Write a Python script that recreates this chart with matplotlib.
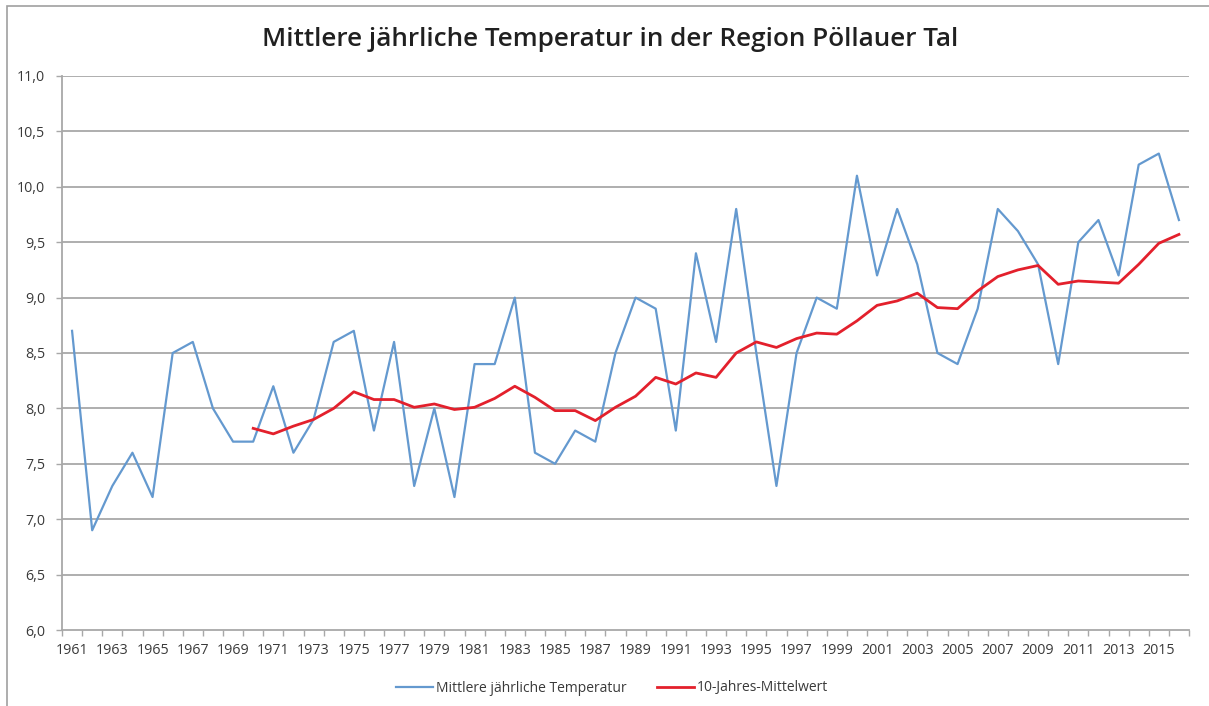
import numpy as np
import matplotlib.pyplot as plt
from matplotlib.patches import Rectangle
from matplotlib.ticker import FixedLocator, FuncFormatter

years = list(range(1961, 2017))
temp = [8.7, 6.9, 7.3, 7.6, 7.2, 8.5, 8.6, 8.0, 7.7, 7.7,
        8.2, 7.6, 7.9, 8.6, 8.7, 7.8, 8.6, 7.3, 8.0, 7.2,
        8.4, 8.4, 9.0, 7.6, 7.5, 7.8, 7.7, 8.5, 9.0, 8.9,
        7.8, 9.4, 8.6, 9.8, 8.5, 7.3, 8.5, 9.0, 8.9, 10.1,
        9.2, 9.8, 9.3, 8.5, 8.4, 8.9, 9.8, 9.6, 9.3, 8.4,
        9.5, 9.7, 9.2, 10.2, 10.3, 9.7]

# 10-Jahres-Mittelwert, ab 1970
mean_years = list(range(1970, 2017))
mean10 = [7.82, 7.77, 7.84, 7.90, 8.00, 8.15, 8.08, 8.08, 8.01, 8.04,
          7.99, 8.01, 8.09, 8.20, 8.10, 7.98, 7.98, 7.89, 8.01, 8.11,
          8.28, 8.22, 8.32, 8.28, 8.50, 8.60, 8.55, 8.63, 8.68, 8.67,
          8.79, 8.93, 8.97, 9.04, 8.91, 8.90, 9.06, 9.19, 9.25, 9.29,
          9.12, 9.15, 9.14, 9.13, 9.30, 9.49, 9.57]

y_ticks = [6.0, 6.5, 7.0, 7.5, 8.0, 8.5, 9.0, 9.5, 10.0, 10.5, 11.0]
x_labels = years[::2]

W, H = 1209, 706
fig = plt.figure(figsize=(W / 100, H / 100), dpi=100)
plt.rcParams['font.family'] = ['Open Sans', 'DejaVu Sans']

# outer frame of the chart area
fig.patches.append(Rectangle((7 / W, -0.1), 1.2, 1 - 6 / H + 0.1, transform=fig.transFigure,
                             fill=False, edgecolor='#a0a0a0', linewidth=1.2))

ax = fig.add_axes([62 / W, 1 - 630 / H, (1189 - 62) / W, (630 - 76) / H])
grid_c = '#a8a8a8'
for v in y_ticks[1:]:
    ax.axhline(v, color=grid_c, linewidth=1.3, zorder=1)

l1, = ax.plot(years, temp, color='#6499cf', linewidth=1.6, zorder=3,
              label='Mittlere jährliche Temperatur')
l2, = ax.plot(mean_years, mean10, color='#e3202c', linewidth=2.0, zorder=4,
              label='10-Jahres-Mittelwert')

ax.set_xlim(years[0] - 0.5, years[-1] + 0.5)
ax.set_ylim(6.0, 11.0)
ax.set_yticks(y_ticks)
ax.yaxis.set_major_formatter(FuncFormatter(lambda v, p: f'{v:.1f}'.replace('.', ',')))

ax.set_xticks(x_labels)
ax.set_xticklabels([str(y) for y in x_labels])
ax.xaxis.set_minor_locator(FixedLocator(np.arange(years[0] - 0.5, years[-1] + 1, 1.0)))
ax.tick_params(axis='x', which='major', length=0, pad=9, labelsize=10.3, labelcolor='#3a3a3a')
ax.tick_params(axis='x', which='minor', length=4, width=1, color=grid_c, direction='out')
ax.tick_params(axis='y', length=4, width=1, color=grid_c, pad=8, labelsize=10.3, labelcolor='#3a3a3a')

for s in ['top', 'right']:
    ax.spines[s].set_visible(False)
for s in ['left', 'bottom']:
    ax.spines[s].set_color(grid_c)
    ax.spines[s].set_linewidth(1.3)

fig.text(610 / W, 1 - 39 / H, 'Mittlere jährliche Temperatur in der Region Pöllauer Tal',
         ha='center', va='center', fontsize=18.8, fontweight='semibold', color='#202020')

fig.legend(handles=[l1, l2], loc='center', bbox_to_anchor=(612 / W, 1 - 688 / H), ncol=2,
           frameon=False, fontsize=10, handlelength=2.7, handletextpad=0.2, columnspacing=2.2,
           labelcolor='#3a3a3a')

fig.savefig('out.png', dpi=100)
